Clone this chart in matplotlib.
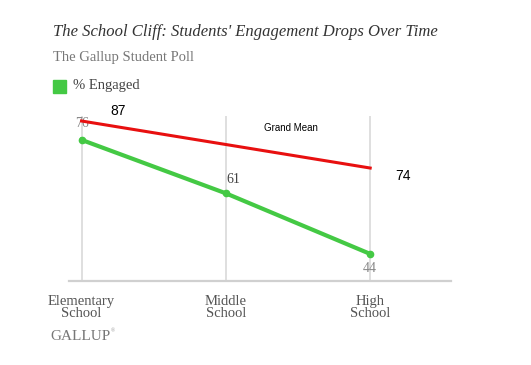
import matplotlib
matplotlib.use("Agg")
import matplotlib.pyplot as plt

# data
categories = ["Elementary\nSchool", "Middle\nSchool", "High\nSchool"]
engaged = [76, 61, 44]
engaged_labels = ["76", "61", "44"]
# hand-drawn grand mean line (position on the chart scale) and its labels
mean_x = [0, 2]
mean_line = [81.3, 68.1]
mean_labels = ["87", "74"]

serif = "Liberation Serif"
sans = "Liberation Sans"

fig = plt.figure(figsize=(5.31, 3.65), dpi=100)
ax = fig.add_axes([69 / 531, 84 / 365, 382 / 531, 165 / 365])

x = range(len(categories))
ax.plot(x, engaged, color="#44c944", lw=3.0, marker="o", ms=4.5, zorder=3)
ax.plot(mean_x, mean_line, color="#e81010", lw=2.2, zorder=4)

ax.set_xlim(-0.087, 2.56)
ax.set_ylim(36.4, 82.7)

for xi in x:
    ax.axvline(xi, color="#d9d9d9", lw=1.2, zorder=1)

for s in ["top", "right", "left"]:
    ax.spines[s].set_visible(False)
ax.spines["bottom"].set_color("#d0d0d0")
ax.spines["bottom"].set_linewidth(1.6)
ax.set_yticks([])
ax.set_xticks(list(x))
ax.set_xticklabels(categories, family=serif, fontsize=10.5, color="#555555", linespacing=0.9)
ax.tick_params(axis="x", length=0, pad=10)

# value labels on the green line
ax.text(0, engaged[0] + 4.5, engaged_labels[0], family=serif, fontsize=10, color="#888888",
        ha="center", va="center", zorder=2)
ax.text(1.05, engaged[1] + 4.0, engaged_labels[1], family=serif, fontsize=10, color="#444444",
        ha="center", va="center")
ax.text(2, engaged[2] - 4.0, engaged_labels[2], family=serif, fontsize=10, color="#888888",
        ha="center", va="center")

# grand mean annotations
ax.text(0.25, 84.2, mean_labels[0], family=sans, fontsize=10, color="black",
        ha="center", va="center", clip_on=False)
ax.text(2.23, 66.0, mean_labels[1], family=sans, fontsize=10, color="black",
        ha="center", va="center")
ax.text(1.45, 79.4, "Grand Mean", family=sans, fontsize=7, color="black",
        ha="center", va="center")

# titles and legend
fig.text(53 / 531, 1 - 32 / 365, "The School Cliff: Students' Engagement Drops Over Time",
         family=serif, style="italic", fontsize=12, color="#333333", va="center")
fig.text(53 / 531, 1 - 57 / 365, "The Gallup Student Poll", family=serif, fontsize=10.5,
         color="#777777", va="center")
fig.patches.append(plt.Rectangle((53 / 531, 1 - 93 / 365), 13 / 531, 13 / 365,
                                 transform=fig.transFigure, color="#44c944"))
fig.text(73 / 531, 1 - 86 / 365, "% Engaged", family=serif, fontsize=10.5, color="#444444",
         va="center")
fig.text(50 / 531, 1 - 336 / 365, "GALLUP", family=serif, fontsize=11, color="#777777",
         va="center")
fig.text(111 / 531, 1 - 331 / 365, "\u00ae", family=serif, fontsize=4, color="#999999",
         va="center")

fig.savefig("out.png", dpi=100)
